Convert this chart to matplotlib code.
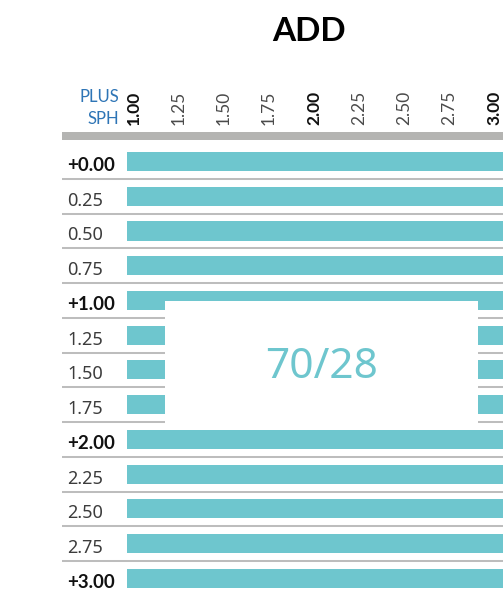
import matplotlib
matplotlib.use("Agg")
import matplotlib.pyplot as plt
from matplotlib.patches import Rectangle
from matplotlib import transforms

# --- data -------------------------------------------------------------
sph_labels = ["+0.00", "0.25", "0.50", "0.75", "+1.00", "1.25", "1.50",
              "1.75", "+2.00", "2.25", "2.50", "2.75", "+3.00"]
sph_bold = [True, False, False, False, True, False, False,
            False, True, False, False, False, True]
add_values = [1.00, 1.25, 1.50, 1.75, 2.00, 2.25, 2.50, 2.75, 3.00]
add_labels = ["1.00", "1.25", "1.50", "1.75", "2.00", "2.25", "2.50", "2.75", "3.00"]
add_bold = [True, False, False, False, True, False, False, False, True]
# available ADD range for each SPH row
add_from = [1.00, 1.00, 1.00, 1.00, 1.00, 1.00, 1.00, 1.00, 1.00, 1.00, 1.00, 1.00, 1.00]
add_to = [3.50, 3.50, 3.50, 3.50, 3.50, 3.50, 3.50, 3.50, 3.50, 3.50, 3.50, 3.50, 3.50]
badge_text = "70/28"

# --- style --------------------------------------------------------------
TEAL = "#6ec6ce"
HEADER_GRAY = "#b4b4b2"
RULE_GRAY = "#bdbdbd"
BLUE = "#2e75b6"
SANS = ["Noto Sans", "DejaVu Sans"]
LATO = ["Lato", "DejaVu Sans"]

W, H = 503, 591
fig = plt.figure(figsize=(W / 100, H / 100), dpi=100)
fig.patch.set_facecolor("white")

# axes occupies the table body below the header rule
ax_left, ax_right, ax_top = 62, 503, 130
ax = fig.add_axes([ax_left / W, 0, (ax_right - ax_left) / W, 1 - ax_top / H])
ax.set_xlim(0.639, 3.089)
ax.set_ylim(12.36, -0.9065)
ax.axis("off")

rows = list(range(len(sph_labels)))

# header rule
ax.axhspan(-0.849, -0.619, color=HEADER_GRAY, lw=0, zorder=1)

# bars
ax.barh(rows, [b - a for a, b in zip(add_from, add_to)], left=add_from,
        height=0.547, color=TEAL, lw=0, zorder=2)

# row separators
for r in rows[:-1]:
    ax.axhline(r + 0.5, color=RULE_GRAY, lw=1.45, zorder=1)

# row labels
blend = transforms.blended_transform_factory(ax.transAxes, ax.transData)
for r, lab, b in zip(rows, sph_labels, sph_bold):
    ax.text(0.0113, r + 0.27, lab, transform=blend, ha="left", va="baseline",
            fontsize=13.5 if b else 13, family=LATO if b else SANS,
            fontweight="bold" if b else "normal",
            color="#111111" if b else "#3c3c3c", zorder=3)

# column labels (rotated)
col_tr = transforms.offset_copy(
    transforms.blended_transform_factory(ax.transData, ax.transAxes),
    fig=fig, x=7, y=5, units="dots")
for v, lab, b in zip(add_values, add_labels, add_bold):
    ax.text(v, 1.0, lab, transform=col_tr, rotation=90, ha="center",
            va="bottom", fontsize=12.5, family=LATO,
            fontweight="bold" if b else "normal",
            color="#111111" if b else "#4a4a4a", clip_on=False)

# overlay badge
ax.add_patch(Rectangle((1.211, 4.01), 2.95 - 1.211, 7.61 - 4.01,
                       facecolor="white", edgecolor="none", zorder=5))
ax.text((1.211 + 2.95) / 2, 5.9, badge_text, ha="center",
        va="center", fontsize=30.5, family=SANS,
        color=TEAL, zorder=6)

# headings
fig.text(119 / W, 1 - 102 / H, "PLUS", ha="right", va="baseline",
         fontsize=12, family=LATO, color=BLUE)
fig.text(119 / W, 1 - 124 / H, "SPH", ha="right", va="baseline",
         fontsize=12, family=LATO, color=BLUE)
fig.text(309 / W, 1 - 41 / H, "ADD", ha="center", va="baseline",
         fontsize=24, family=LATO, fontweight="bold", color="#000000")

fig.savefig("out.png", dpi=100)
